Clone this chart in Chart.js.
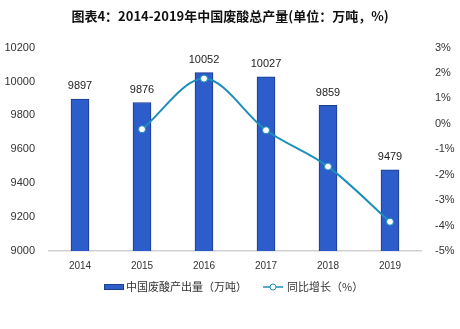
<!DOCTYPE html>
<html>
<head>
<meta charset="utf-8">
<script src="https://cdn.jsdelivr.net/npm/chart.js@4"></script>
<style>
  html, body { margin: 0; padding: 0; background: #fff; }
  #wrap { width: 460px; height: 329px; }
</style>
</head>
<body>
<div id="wrap"><canvas id="chart" width="460" height="329"></canvas></div>
<script>
// chart data
const years = ['2014', '2015', '2016', '2017', '2018', '2019'];
const output = [9897, 9876, 10052, 10027, 9859, 9479];
const growth = [null, -0.21, 1.78, -0.25, -1.68, -3.85];
const leftTicks = [9000, 9200, 9400, 9600, 9800, 10000, 10200];
const rightTicks = [-5, -4, -3, -2, -1, 0, 1, 2, 3];

const titleText = '图表4：2014-2019年中国废酸总产量(单位：万吨，%)';
const barLabel = '中国废酸产出量（万吨）';
const lineLabel = '同比增长（%）';

const FONT = '"Liberation Sans", Arial, "Noto Sans CJK SC", sans-serif';
const CJK = '"Noto Sans CJK SC", sans-serif';
const LINE_COLOR = '#1b8fba';

// value labels above bars
const barValues = {
  id: 'barValues',
  afterDatasetsDraw(chart) {
    const { ctx } = chart;
    const meta = chart.getDatasetMeta(1); // bar dataset
    ctx.save();
    ctx.font = '11px ' + FONT;
    ctx.fillStyle = '#222';
    ctx.textAlign = 'center';
    ctx.textBaseline = 'bottom';
    meta.data.forEach((bar, i) => {
      ctx.fillText(output[i], bar.x, bar.y - 7);
    });
    ctx.restore();
  }
};

// simple legend under the axis
const bottomLegend = {
  id: 'bottomLegend',
  afterDraw(chart) {
    const { ctx } = chart;
    const y = 287;
    ctx.save();
    ctx.font = '11px ' + CJK;
    ctx.textBaseline = 'middle';
    ctx.fillStyle = '#2f5fc9';
    ctx.strokeStyle = '#1d3f8f';
    ctx.lineWidth = 1;
    ctx.fillRect(104, y - 3, 20, 6);
    ctx.strokeRect(104.5, y - 2.5, 19, 5);
    ctx.fillStyle = '#333';
    ctx.fillText(barLabel, 126, y);

    ctx.strokeStyle = LINE_COLOR;
    ctx.lineWidth = 1.5;
    ctx.beginPath();
    ctx.moveTo(263, y);
    ctx.lineTo(283, y);
    ctx.stroke();
    ctx.beginPath();
    ctx.arc(273, y, 3, 0, Math.PI * 2);
    ctx.fillStyle = '#fff';
    ctx.fill();
    ctx.lineWidth = 1;
    ctx.stroke();
    ctx.fillStyle = '#333';
    ctx.fillText(lineLabel, 287, y);
    ctx.restore();
  }
};

new Chart(document.getElementById('chart').getContext('2d'), {
  data: {
    labels: years,
    datasets: [
      {
        type: 'line',
        label: lineLabel,
        data: growth,
        yAxisID: 'y1',
        borderColor: LINE_COLOR,
        borderWidth: 2,
        backgroundColor: '#fff',
        pointBackgroundColor: '#fff',
        pointBorderColor: LINE_COLOR,
        pointBorderWidth: 1,
        pointRadius: 3.5,
        cubicInterpolationMode: 'monotone',
        order: 0
      },
      {
        type: 'bar',
        label: barLabel,
        data: output,
        yAxisID: 'y',
        backgroundColor: '#2c5dca',
        borderColor: '#1b3a8a',
        borderWidth: 1,
        barThickness: 18,
        order: 1
      }
    ]
  },
  options: {
    responsive: false,
    animation: false,
    layout: { padding: { top: 0, bottom: 48, left: 0, right: 0 } },
    plugins: {
      legend: { display: false },
      tooltip: { enabled: false },
      title: {
        display: true,
        text: titleText,
        color: '#111',
        font: { family: CJK, size: 13, weight: 'bold' },
        padding: { top: 8, bottom: 24 }
      }
    },
    scales: {
      x: {
        grid: { display: false, drawTicks: false },
        border: { color: '#d0d0d0', width: 1.5 },
        ticks: { color: '#333', font: { family: FONT, size: 10 }, padding: 9 }
      },
      y: {
        position: 'left',
        min: 9000,
        max: 10200,
        afterBuildTicks(axis) { axis.ticks = leftTicks.map(v => ({ value: v })); },
        afterFit(axis) { axis.width = 49; },
        grid: { display: false, drawTicks: false },
        border: { display: false },
        ticks: { color: '#333', font: { family: FONT, size: 11 }, padding: 14, callback: v => String(v) }
      },
      y1: {
        position: 'right',
        min: -5,
        max: 3,
        afterBuildTicks(axis) { axis.ticks = rightTicks.map(v => ({ value: v })); },
        afterFit(axis) { axis.width = 39; },
        grid: { display: false, drawTicks: false },
        border: { display: false },
        ticks: {
          color: '#333',
          font: { family: FONT, size: 11 },
          padding: 14,
          callback: v => v + '%'
        }
      }
    }
  },
  plugins: [barValues, bottomLegend]
});
</script>
</body>
</html>
